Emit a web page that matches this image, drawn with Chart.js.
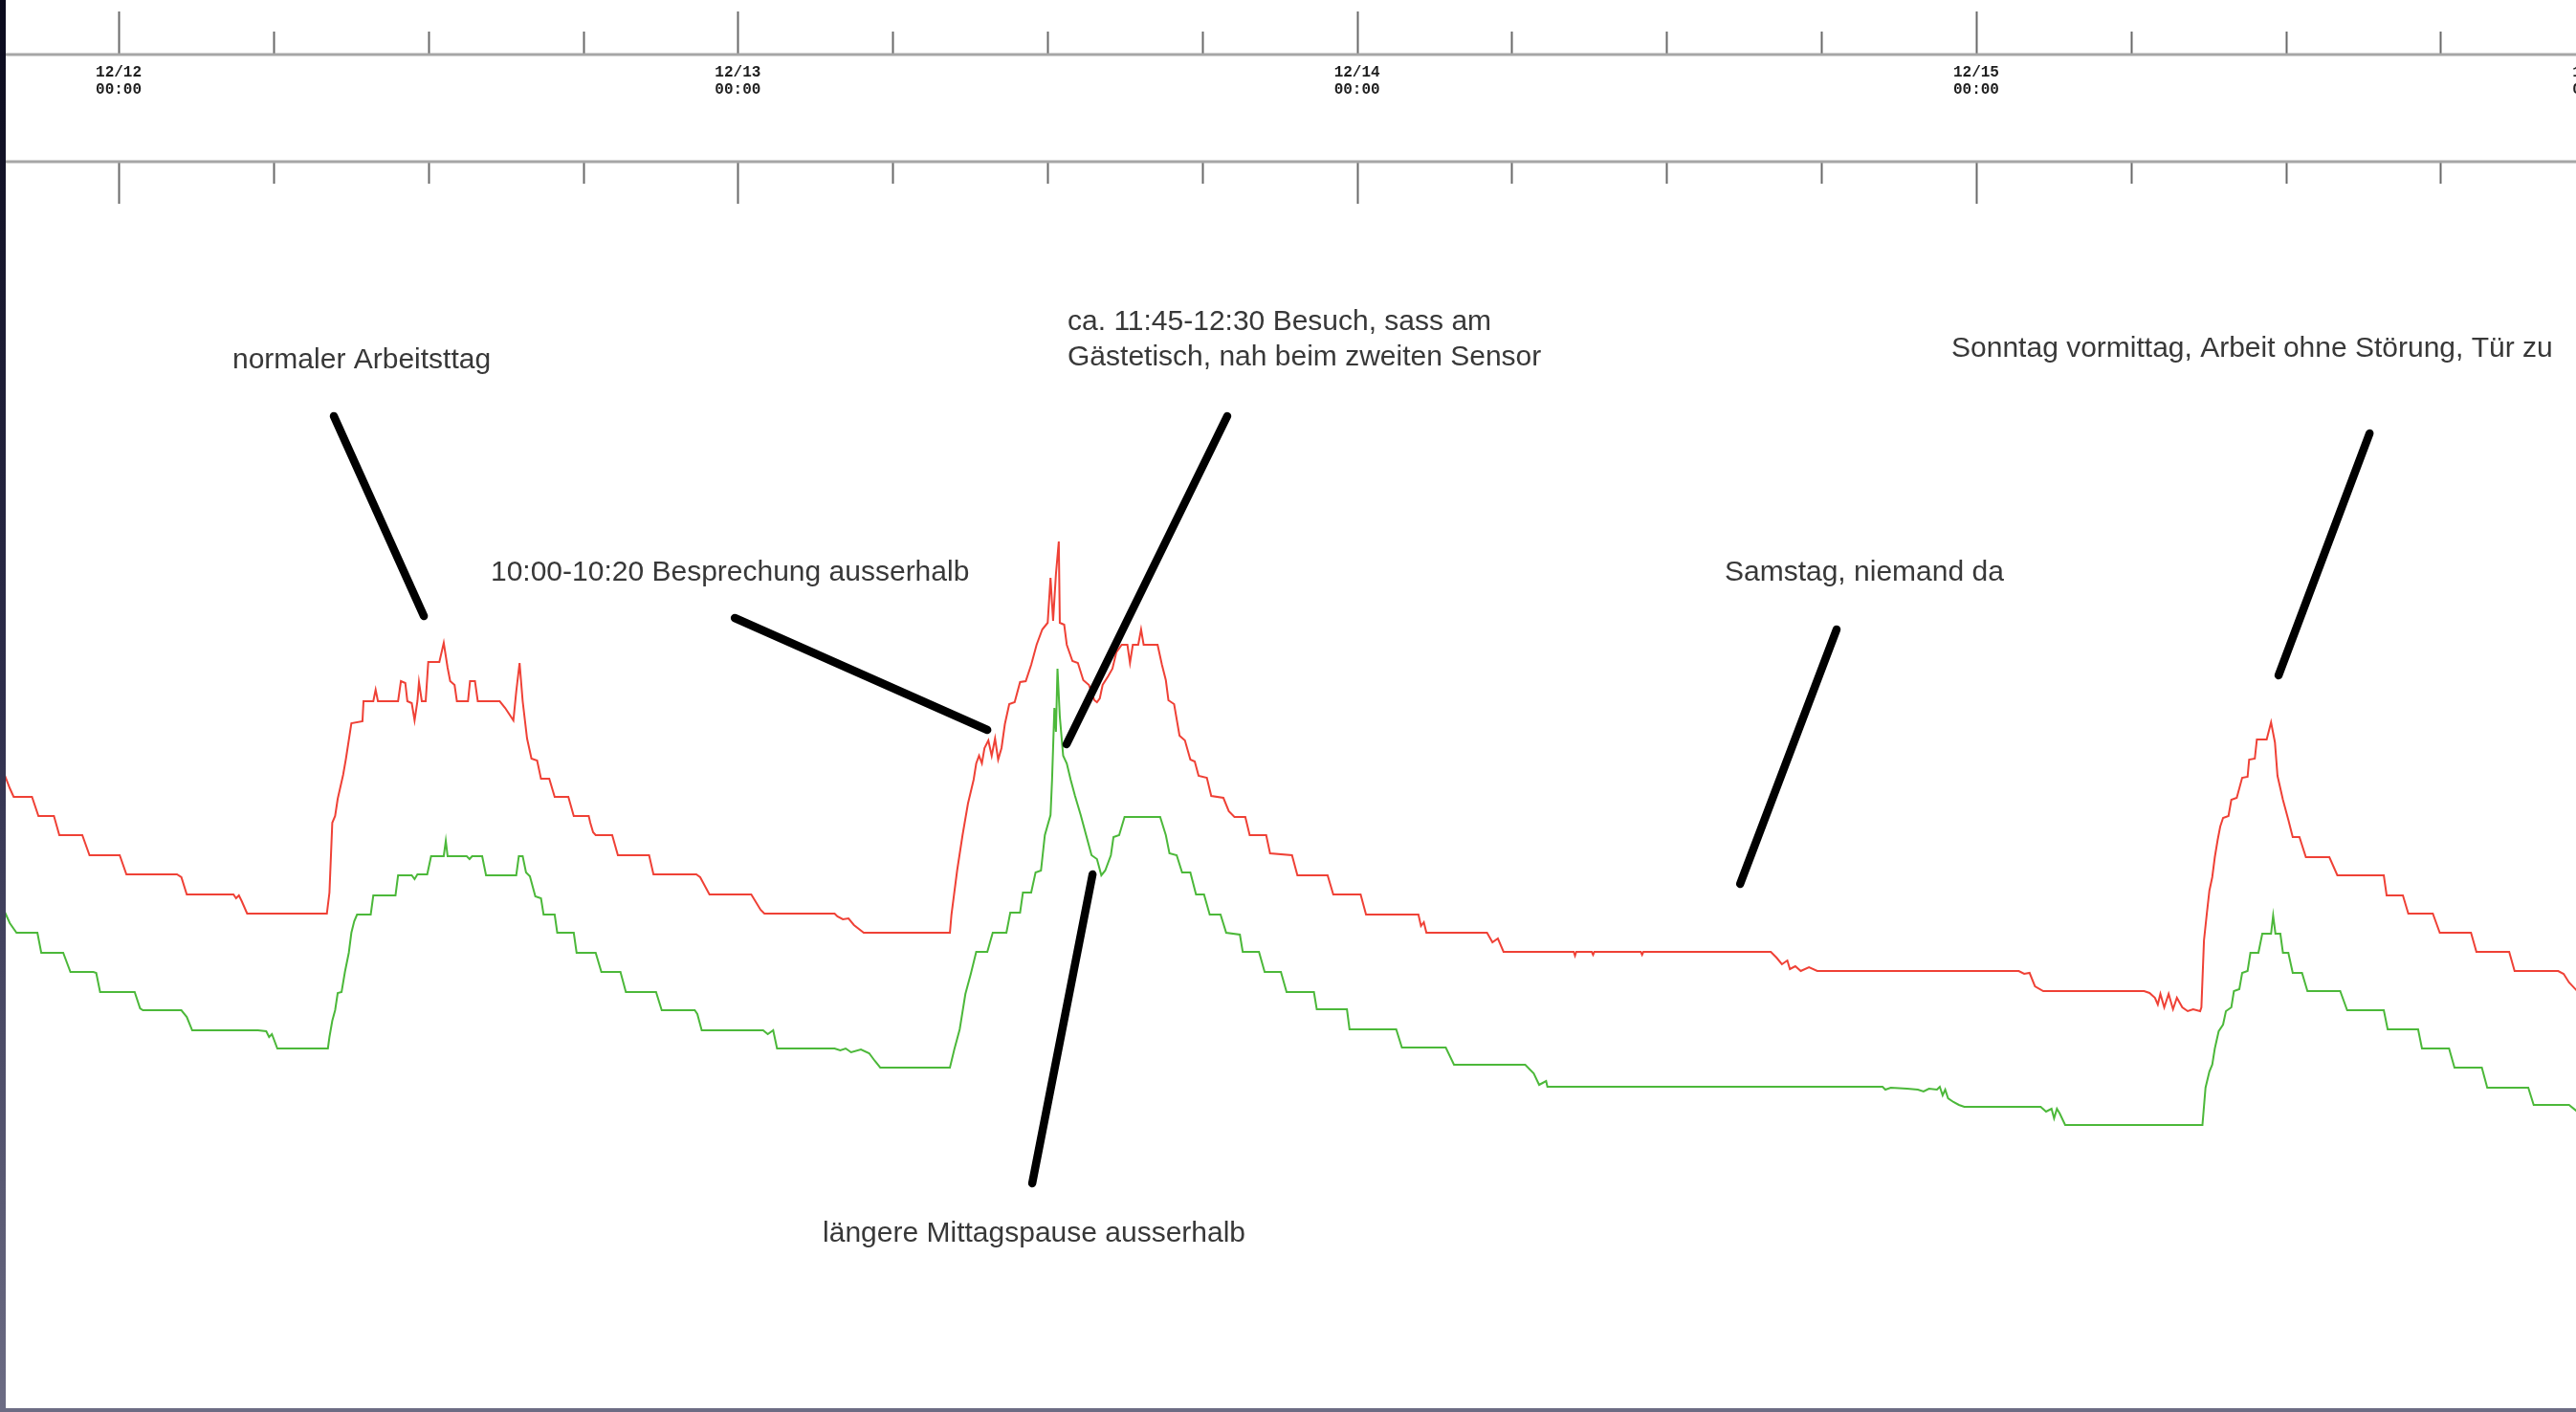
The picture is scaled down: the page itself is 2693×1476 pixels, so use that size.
<!DOCTYPE html>
<html>
<head>
<meta charset="utf-8">
<script src="https://cdn.jsdelivr.net/npm/chart.js@4/dist/chart.umd.min.js"></script>
<style>
  html, body { margin: 0; padding: 0; background: #ffffff; overflow: hidden; }
  canvas { display: block; }
</style>
</head>
<body>
<canvas id="chart" width="2693" height="1476"></canvas>
<script>
// Time axis: hours since 12/12 00:00, one major tick per day, minor every 6 h
const dayLabels = ['12/12', '12/13', '12/14', '12/15', '12/16'];
const dayTimeLabel = '00:00';
const viewHours = [-4.6, 95.25];
const valueRange = [724, 2200];

// Sensor 1 (red): readings over four days
const sensorAHours = [-4.42,-4.22,-4.07,-3.36,-3.11,-2.51,-2.30,-1.41,-1.13,0.04,0.30,2.26,2.43,2.64,4.45,4.55,4.66,4.77,4.98,8.07,8.17,8.28,8.39,8.49,8.70,8.81,9.02,9.45,9.49,9.87,9.96,10.05,10.83,10.94,11.11,11.19,11.36,11.47,11.58,11.64,11.75,11.90,12.00,12.43,12.60,12.75,12.85,13.02,13.11,13.54,13.62,13.81,13.92,14.77,14.98,15.30,15.41,15.54,15.66,15.83,16.00,16.22,16.37,16.69,16.90,17.43,17.64,18.22,18.28,18.39,18.49,19.13,19.35,20.56,20.73,22.39,22.54,22.90,24.52,24.88,25.03,27.75,27.86,28.07,28.29,28.50,28.88,32.22,32.28,32.50,32.71,32.92,33.14,33.24,33.35,33.46,33.56,33.71,33.84,33.97,34.09,34.22,34.35,34.52,34.73,34.94,35.16,35.37,35.58,35.80,36.01,36.12,36.22,36.33,36.44,36.48,36.65,36.75,36.97,37.18,37.39,37.61,37.82,37.92,38.03,38.14,38.35,38.52,38.67,38.88,39.10,39.20,39.31,39.52,39.63,39.73,40.27,40.44,40.59,40.69,40.91,41.12,41.33,41.54,41.71,41.86,42.18,42.35,42.82,43.03,43.25,43.67,43.84,44.48,44.63,45.48,45.69,46.86,47.08,48.14,48.35,50.38,50.48,50.59,50.69,53.04,53.25,53.46,53.68,56.40,56.45,56.50,57.10,57.15,57.20,59.00,59.05,59.10,64.04,64.26,64.47,64.68,64.78,64.99,65.20,65.52,65.84,73.65,73.86,74.07,74.28,74.60,78.51,78.72,78.93,79.04,79.14,79.29,79.46,79.63,79.78,79.99,80.20,80.41,80.68,80.73,80.83,80.94,81.04,81.15,81.25,81.36,81.46,81.57,81.78,81.89,82.10,82.31,82.52,82.58,82.80,82.88,83.26,83.43,83.58,83.68,83.89,84.10,84.27,84.53,84.78,85.69,86.00,87.80,87.91,88.54,88.75,89.70,89.97,91.18,91.39,92.66,92.87,94.56,94.77,94.98,95.30];
const sensorAValues = [1390,1376,1367,1367,1347,1347,1327,1327,1306,1306,1286,1286,1283,1265,1265,1261,1264,1258,1245,1245,1267,1340,1347,1365,1390,1407,1444,1446,1467,1467,1479,1467,1467,1488,1486,1467,1465,1447,1467,1487,1467,1467,1508,1508,1528,1502,1488,1484,1467,1467,1488,1488,1467,1467,1460,1447,1477,1507,1467,1428,1407,1405,1386,1386,1367,1367,1347,1347,1340,1330,1327,1327,1306,1306,1286,1286,1283,1265,1265,1249,1245,1245,1242,1239,1240,1233,1225,1225,1244,1290,1327,1360,1385,1402,1410,1402,1418,1426,1410,1428,1406,1418,1443,1464,1466,1487,1488,1505,1526,1542,1549,1596,1551,1600,1634,1549,1547,1526,1509,1507,1489,1484,1468,1466,1470,1484,1493,1501,1518,1526,1526,1507,1526,1526,1542,1526,1526,1505,1489,1468,1464,1431,1426,1406,1404,1389,1387,1368,1366,1352,1346,1346,1327,1327,1308,1306,1285,1285,1265,1265,1244,1244,1232,1236,1225,1225,1215,1219,1205,1205,1201,1205,1205,1202,1205,1205,1202,1205,1205,1199,1192,1196,1187,1190,1185,1189,1185,1185,1182,1183,1169,1164,1164,1162,1157,1150,1161,1147,1161,1145,1157,1147,1143,1145,1143,1147,1217,1245,1269,1283,1304,1322,1336,1345,1347,1364,1366,1387,1388,1406,1407,1427,1427,1445,1424,1389,1364,1343,1325,1325,1304,1304,1285,1285,1264,1264,1245,1245,1225,1225,1205,1205,1185,1185,1182,1173,1164];

// Sensor 2 (green): readings over the same four days
const sensorBHours = [-4.42,-4.22,-3.96,-3.15,-3.00,-2.15,-1.87,-0.98,-0.87,-0.72,0.62,0.83,0.94,2.43,2.64,2.85,5.40,5.72,5.83,5.94,6.15,8.11,8.17,8.28,8.39,8.49,8.64,8.77,8.92,9.02,9.13,9.24,9.77,9.87,10.73,10.83,11.36,11.47,11.58,11.96,12.11,12.60,12.68,12.75,13.49,13.60,13.70,14.09,14.24,15.41,15.51,15.66,15.79,15.94,16.15,16.37,16.47,16.90,17.00,17.64,17.75,18.49,18.71,19.45,19.66,20.83,21.05,22.33,22.43,22.60,24.98,25.16,25.37,25.52,27.75,27.97,28.18,28.39,28.77,29.09,29.31,29.52,32.22,32.39,32.60,32.82,33.03,33.24,33.67,33.88,34.41,34.56,34.94,35.05,35.37,35.54,35.75,35.90,36.12,36.18,36.27,36.33,36.39,36.48,36.61,36.75,36.90,37.07,37.29,37.50,37.71,37.92,38.09,38.24,38.46,38.56,38.78,38.99,40.37,40.59,40.73,41.01,41.22,41.54,41.76,42.07,42.29,42.71,42.93,43.46,43.57,44.20,44.42,45.05,45.27,46.33,46.44,47.61,47.71,49.52,49.74,51.44,51.76,54.52,54.85,55.06,55.33,55.38,68.37,68.48,68.69,69.32,69.74,69.96,70.17,70.48,70.59,70.70,70.80,70.91,71.12,71.33,71.54,74.50,74.71,74.92,75.02,75.13,75.24,75.45,80.77,80.89,81.04,81.15,81.25,81.40,81.57,81.68,81.89,81.99,82.20,82.31,82.52,82.63,82.94,83.09,83.43,83.51,83.60,83.79,83.89,84.10,84.27,84.63,84.84,86.11,86.38,87.80,87.95,89.13,89.28,90.33,90.54,91.60,91.81,93.40,93.61,94.98,95.30];
const sensorBValues = [1247,1235,1225,1225,1204,1204,1184,1184,1183,1163,1163,1146,1144,1144,1137,1123,1123,1122,1116,1119,1104,1104,1116,1133,1144,1162,1163,1184,1204,1225,1237,1244,1244,1264,1264,1285,1285,1281,1286,1286,1305,1305,1321,1305,1305,1302,1305,1305,1285,1285,1305,1305,1288,1284,1263,1261,1244,1244,1225,1225,1204,1204,1184,1184,1163,1163,1144,1144,1140,1123,1123,1119,1123,1104,1104,1102,1104,1100,1103,1099,1091,1084,1084,1103,1124,1161,1182,1205,1205,1225,1225,1246,1246,1267,1267,1288,1290,1327,1348,1385,1460,1435,1501,1451,1410,1402,1385,1368,1348,1327,1306,1302,1285,1290,1306,1325,1327,1346,1346,1327,1308,1306,1288,1288,1265,1265,1244,1244,1225,1223,1205,1205,1184,1184,1163,1163,1145,1145,1124,1124,1105,1105,1087,1087,1078,1066,1070,1064,1064,1061,1063,1062,1061,1059,1062,1061,1064,1055,1061,1052,1048,1045,1043,1043,1038,1041,1031,1041,1036,1024,1024,1063,1080,1087,1104,1122,1129,1143,1147,1164,1166,1183,1185,1204,1204,1224,1224,1243,1224,1224,1204,1204,1183,1183,1164,1164,1144,1144,1124,1124,1104,1104,1084,1084,1063,1063,1045,1045,1038];

// Handwritten notes: text, anchor [hour, value] at the left baseline
const noteTexts = [
  'normaler Arbeitsttag',
  '10:00-10:20 Besprechung ausserhalb',
  'ca. 11:45-12:30 Besuch, sass am',
  'Gästetisch, nah beim zweiten Sensor',
  'Samstag, niemand da',
  'Sonntag vormittag, Arbeit ohne Störung, Tür zu',
  'längere Mittagspause ausserhalb'
];
const noteAnchors = [[4.41,1815],[14.42,1593],[36.78,1855],[36.78,1818],[62.25,1593],[71.04,1827],[27.29,902]];
// Pointer strokes: [hourFrom, valueFrom, hourTo, valueTo]
const leaderLines = [
  [8.34,1765,11.83,1556],
  [23.88,1554,33.67,1437],
  [42.97,1765,36.74,1422],
  [37.75,1286,35.41,963],
  [66.59,1542,62.85,1276],
  [87.25,1747,83.72,1494]
];

const toPoints = (hours, values) => hours.map((h, i) => ({ x: h, y: values[i] }));

// Time strip across the top: two rails, day labels between them
const timeStrip = {
  id: 'timeStrip',
  afterDraw(chart) {
    const ctx = chart.ctx;
    const x = chart.scales.x;
    const W = chart.width;
    const rail1 = 57, rail2 = 169;
    ctx.save();
    ctx.strokeStyle = '#6a6a6a';
    ctx.lineWidth = 2;
    for (let h = -6; h <= 96; h += 6) {
      const px = Math.round(x.getPixelForValue(h)) + 0.5;
      const major = h % 24 === 0;
      ctx.beginPath();
      ctx.moveTo(px, major ? 12 : 33);
      ctx.lineTo(px, rail1);
      ctx.moveTo(px, rail2);
      ctx.lineTo(px, major ? 213 : 192);
      ctx.stroke();
    }
    ctx.strokeStyle = '#a6a6a6';
    ctx.lineWidth = 3;
    ctx.beginPath();
    ctx.moveTo(0, rail1); ctx.lineTo(W, rail1);
    ctx.moveTo(0, rail2); ctx.lineTo(W, rail2);
    ctx.stroke();

    ctx.fillStyle = '#1e1e1e';
    ctx.font = 'bold 16px "Liberation Mono", "DejaVu Sans Mono", monospace';
    ctx.textAlign = 'center';
    ctx.textBaseline = 'middle';
    dayLabels.forEach((lbl, i) => {
      const px = x.getPixelForValue(i * 24);
      ctx.fillText(lbl, px, 76);
      ctx.fillText(dayTimeLabel, px, 94);
    });
    ctx.restore();
  }
};

// Notes and pointer strokes, positioned through the chart scales
const notes = {
  id: 'notes',
  afterDatasetsDraw(chart) {
    const ctx = chart.ctx;
    const x = chart.scales.x, y = chart.scales.y;
    ctx.save();
    ctx.strokeStyle = '#000000';
    ctx.lineWidth = 8.5;
    ctx.lineCap = 'round';
    leaderLines.forEach(([h1, v1, h2, v2]) => {
      ctx.beginPath();
      ctx.moveTo(x.getPixelForValue(h1), y.getPixelForValue(v1));
      ctx.lineTo(x.getPixelForValue(h2), y.getPixelForValue(v2));
      ctx.stroke();
    });
    ctx.fillStyle = '#383838';
    ctx.font = '30px "Liberation Sans", Arial, Helvetica, sans-serif';
    ctx.textAlign = 'left';
    ctx.textBaseline = 'alphabetic';
    noteTexts.forEach((t, i) => {
      const [h, v] = noteAnchors[i];
      ctx.fillText(t, x.getPixelForValue(h), y.getPixelForValue(v));
    });
    ctx.restore();
  }
};

// Window frame edges on the left and bottom
const frame = {
  id: 'frame',
  afterDraw(chart) {
    const ctx = chart.ctx;
    const W = chart.width, H = chart.height;
    ctx.save();
    const g = ctx.createLinearGradient(0, 0, 0, H);
    g.addColorStop(0, '#0a0a1c');
    g.addColorStop(0.5, '#2e2e4c');
    g.addColorStop(1, '#6c6c84');
    ctx.fillStyle = g;
    ctx.fillRect(0, 0, 6, H);
    ctx.fillStyle = '#6c6c84';
    ctx.fillRect(0, H - 4, W, 4);
    ctx.restore();
  }
};

new Chart(document.getElementById('chart'), {
  type: 'line',
  data: {
    datasets: [
      {
        label: 'Sensor 1',
        data: toPoints(sensorAHours, sensorAValues),
        borderColor: '#ef4136',
        borderWidth: 2,
        pointRadius: 0,
        tension: 0,
        fill: false
      },
      {
        label: 'Sensor 2',
        data: toPoints(sensorBHours, sensorBValues),
        borderColor: '#4cb83a',
        borderWidth: 2,
        pointRadius: 0,
        tension: 0,
        fill: false
      }
    ]
  },
  options: {
    responsive: false,
    animation: false,
    devicePixelRatio: 1,
    layout: { padding: 0 },
    scales: {
      x: { type: 'linear', display: false, bounds: 'data', min: viewHours[0], max: viewHours[1] },
      y: { type: 'linear', display: false, bounds: 'data', min: valueRange[0], max: valueRange[1] }
    },
    plugins: {
      legend: { display: false },
      tooltip: { enabled: false }
    }
  },
  plugins: [timeStrip, notes, frame]
});
</script>
</body>
</html>
